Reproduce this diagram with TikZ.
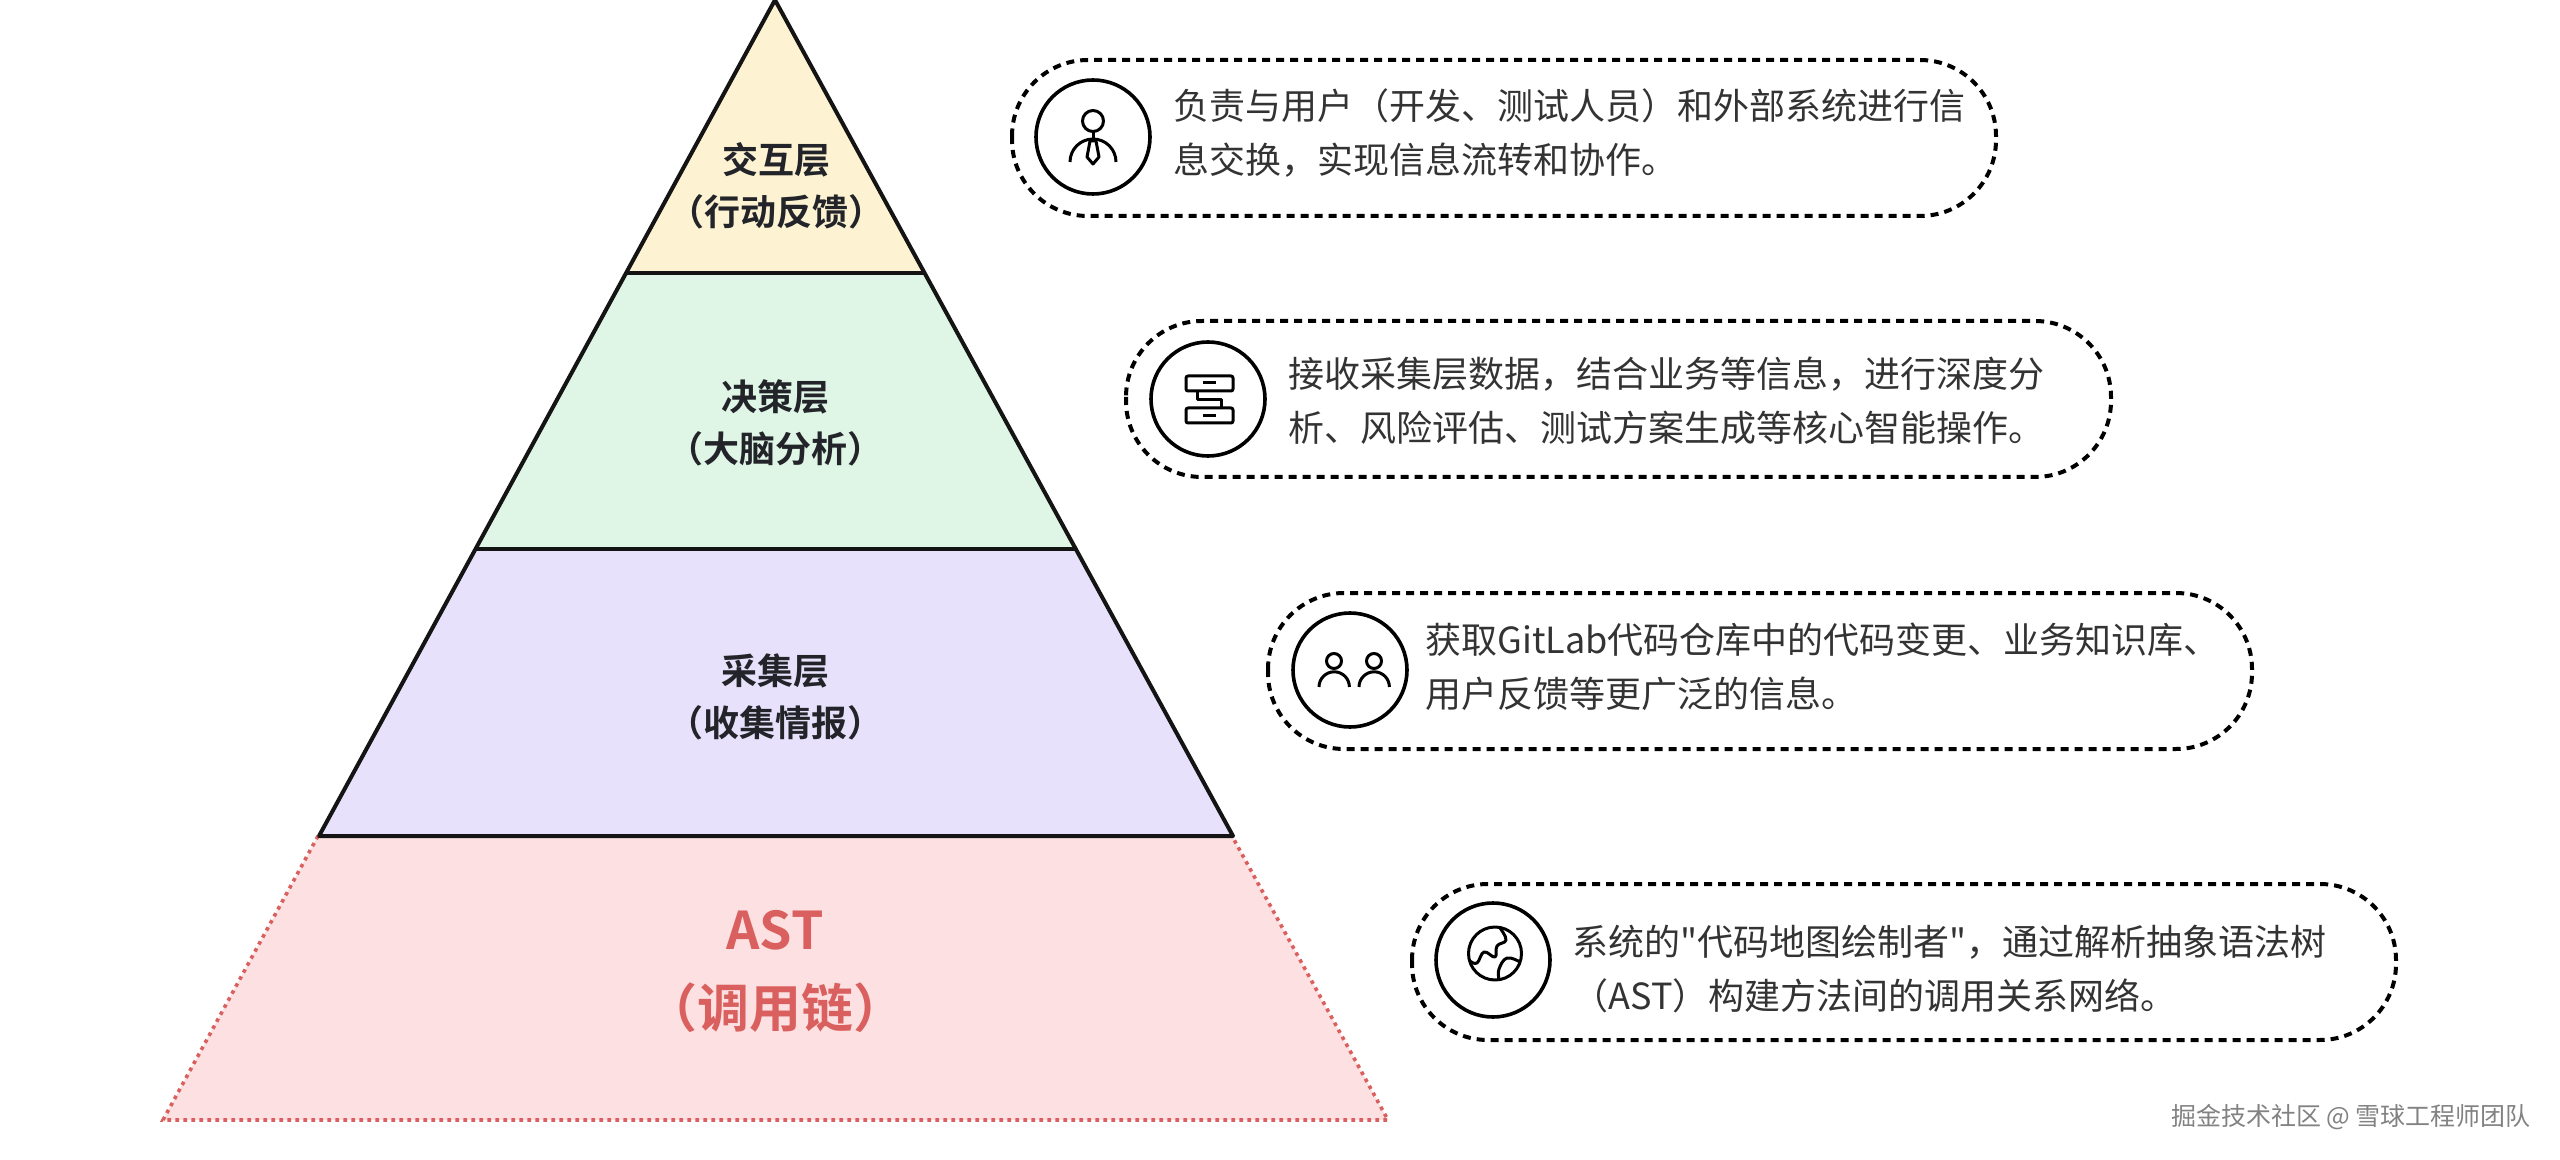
\documentclass[tikz,border=0pt]{standalone}
\usepackage{fontspec}
\setmainfont{Noto Sans CJK SC}[BoldFont={Noto Sans CJK SC Bold},Ligatures=TeXOff]
\definecolor{layerYellow}{RGB}{253,243,210}
\definecolor{layerGreen}{RGB}{223,245,230}
\definecolor{layerPurple}{RGB}{232,225,251}
\definecolor{layerPink}{RGB}{253,224,225}
\definecolor{astRed}{RGB}{217,96,94}
\definecolor{labelInk}{RGB}{34,36,41}
\definecolor{descInk}{RGB}{51,51,51}
\definecolor{markGrey}{RGB}{130,130,130}
\tikzset{
  edgeline/.style={line width=2pt,color=black!92},
  dotline/.style={line width=1.8pt,color=astRed,dash pattern=on 1.8pt off 2.2pt},
  pill/.style={line width=2pt,color=black,dash pattern=on 4pt off 3pt,rounded corners=38pt},
  ring/.style={line width=1.8pt,color=black},
  glyph/.style={line width=1.5pt,color=black,line join=round},
  layertext/.style={inner sep=0,align=center,color=labelInk,font=\fontsize{18}{26}\selectfont\bfseries},
  asttext/.style={inner sep=0,align=center,color=astRed,font=\fontsize{26}{39}\selectfont\bfseries},
  desctext/.style={inner sep=0,anchor=west,align=left,color=descInk,font=\fontsize{18}{27}\selectfont},
}
\begin{document}
\begin{tikzpicture}[x=0.5pt,y=0.5pt,yscale=-1,xscale=1]
\useasboundingbox (0,0) rectangle (2560,1160);

%Layer fills
\fill [layerYellow] (775,0) -- (924,273) -- (626,273) -- cycle ;
\fill [layerGreen] (626,273) -- (924,273) -- (1075,549) -- (475,549) -- cycle ;
\fill [layerPurple] (475,549) -- (1075,549) -- (1232,836) -- (318,836) -- cycle ;
\fill [layerPink] (318,836) -- (1232,836) -- (1388,1120) -- (163,1120) -- cycle ;

%Dotted bottom layer
\draw [dotline] (318,836) -- (163,1120) -- (1388,1120) -- (1232,836) ;

%Pyramid outline
\draw [edgeline] (626,273) -- (924,273) ;
\draw [edgeline] (475,549) -- (1075,549) ;
\draw [edgeline,line join=round] (775,0) -- (1233,836) -- (319,836) -- cycle ;

% Text Node
\draw (776,185.5) node (lblAction) [layertext] {交互层\\（行动反馈）};
% Text Node
\draw (775,423) node (lblDecide) [layertext] {决策层\\（大脑分析）};
% Text Node
\draw (775,697) node (lblCollect) [layertext] {采集层\\（收集情报）};
% Text Node
\draw (775,971.5) node (lblAst) [asttext] {AST\\（调用链）};

%Dashed pills
\draw [pill] (1012,60) rectangle (1996,216) ;
\draw [pill] (1126,321) rectangle (2111,477) ;
\draw [pill] (1268,593) rectangle (2252,749) ;
\draw [pill] (1412,884) rectangle (2396,1040) ;

%Icon rings
\draw [ring] (1093,137) circle [x radius=57,y radius=57] ;
\draw [ring] (1208,399) circle [x radius=57,y radius=57] ;
\draw [ring] (1350,670) circle [x radius=57,y radius=57] ;
\draw [ring] (1493,960) circle [x radius=57,y radius=57] ;

%Person with tie
\draw [glyph] (1093,121) circle [x radius=10.5,y radius=10.5] ;
\draw [glyph] (1093,132) -- (1093,140) ;
\draw [glyph] (1070,162) arc [start angle=180,end angle=360,x radius=23,y radius=23] ;
\draw [glyph] (1090,141) -- (1096,141) -- (1099,157) -- (1093,164) -- (1087,157) -- cycle ;

%Two stacked boxes
\draw [glyph,rounded corners=1pt] (1186,376) rectangle (1233,391) ;
\draw [glyph,rounded corners=1pt] (1186,408) rectangle (1233,423) ;
\draw [glyph] (1203,383) -- (1216,383) ;
\draw [glyph] (1203,415.5) -- (1216,415.5) ;
\draw [glyph] (1197,391) -- (1197,399.5) -- (1221,399.5) -- (1221,408) ;

%Two users
\draw [glyph] (1334,661) circle [x radius=7.5,y radius=7.5] ;
\draw [glyph] (1374,661) circle [x radius=7.5,y radius=7.5] ;
\draw [glyph] (1319,687) arc [start angle=180,end angle=360,x radius=15.2,y radius=15.2] ;
\draw [glyph] (1359,687) arc [start angle=180,end angle=360,x radius=15.2,y radius=15.2] ;

%Globe
\draw [glyph] (1495,953.5) circle [x radius=26.5,y radius=26.5] ;
\draw [glyph] plot [smooth,tension=0.7] coordinates {(1500,928) (1506,940) (1497,946) (1495,957) (1484,952) (1477,963) (1470,961)} ;
\draw [glyph] plot [smooth,tension=0.7] coordinates {(1520,962) (1507,958) (1499,969) (1499,979)} ;

% Text Node
\draw (1173,133.5) node (descAction) [desctext] {负责与用户（开发、测试人员）和外部系统进行信\\息交换，实现信息流转和协作。};
% Text Node
\draw (1288,401) node (descDecide) [desctext] {接收采集层数据，结合业务等信息，进行深度分\\析、风险评估、测试方案生成等核心智能操作。};
% Text Node
\draw (1425,667) node (descCollect) [desctext] {获取GitLab代码仓库中的代码变更、业务知识库、\\用户反馈等更广泛的信息。};
% Text Node
\draw (1572,969) node (descAst) [desctext] {系统的"代码地图绘制者"，通过解析抽象语法树\\（AST）构建方法间的调用关系网络。};
% Text Node
\draw (2351,1117) node (lblMark) [inner sep=0,color=markGrey,font=\fontsize{12.5}{16}\selectfont] {掘金技术社区 @ 雪球工程师团队};

\end{tikzpicture}
\end{document}
